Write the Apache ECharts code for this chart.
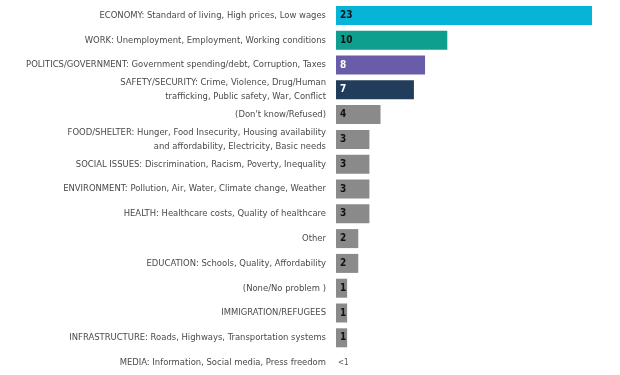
<!DOCTYPE html>
<html><head><meta charset="utf-8">
<script src="https://cdn.jsdelivr.net/npm/echarts@6/dist/echarts.min.js"></script>
<style>html,body{margin:0;padding:0;background:#fff}#c{width:620px;height:375px}</style>
</head><body><div id="c"></div>
<script>
var categories = [
  "ECONOMY: Standard of living, High prices, Low wages",
  "WORK: Unemployment, Employment, Working conditions",
  "POLITICS/GOVERNMENT: Government spending/debt, Corruption, Taxes",
  "SAFETY/SECURITY: Crime, Violence, Drug/Human\ntrafficking, Public safety, War, Conflict",
  "(Don't know/Refused)",
  "FOOD/SHELTER: Hunger, Food Insecurity, Housing availability\nand affordability, Electricity, Basic needs",
  "SOCIAL ISSUES: Discrimination, Racism, Poverty, Inequality",
  "ENVIRONMENT: Pollution, Air, Water, Climate change, Weather",
  "HEALTH: Healthcare costs, Quality of healthcare",
  "Other",
  "EDUCATION: Schools, Quality, Affordability",
  "(None/No problem )",
  "IMMIGRATION/REFUGEES",
  "INFRASTRUCTURE: Roads, Highways, Transportation systems",
  "MEDIA: Information, Social media, Press freedom"
];
var values = [23, 10, 8, 7, 4, 3, 3, 3, 3, 2, 2, 1, 1, 1, 0];
var valueLabels = ["23","10","8","7","4","3","3","3","3","2","2","1","1","1","<1"];
var barColors = ["#05b4d7","#0f9f8f","#6a5ca8","#213d5b","#8a8a8a","#8a8a8a","#8a8a8a","#8a8a8a","#8a8a8a","#8a8a8a","#8a8a8a","#8a8a8a","#8a8a8a","#8a8a8a","#8a8a8a"];
var labelColors = ["#111","#111","#fff","#fff","#111","#111","#111","#111","#111","#111","#111","#111","#111","#111","#555"];

var FONT = '"Liberation Sans Narrow","DejaVu Sans Condensed",sans-serif';
var chart = echarts.init(document.getElementById('c'), null, {renderer:'canvas'});
chart.setOption({
  animation: false,
  grid: {left: 336, width: 256, top: 3, height: 375, containLabel: false},
  xAxis: {type: 'value', min: 0, max: 23, show: false},
  yAxis: {
    type: 'category', inverse: true, data: categories,
    axisLine: {show: false}, axisTick: {show: false},
    axisLabel: {margin: 10, color: '#4a4a4a', fontFamily: FONT, fontSize: 9.4, lineHeight: 14, align: 'right'}
  },
  series: [{
    type: 'bar', barWidth: 19,
    data: values.map(function(v, i){
      var last = i === values.length - 1;
      return {
        value: v,
        itemStyle: {color: barColors[i]},
        label: {
          show: true, position: last ? 'right' : 'insideLeft',
          distance: last ? 2 : 4,
          formatter: valueLabels[i], color: labelColors[i],
          fontFamily: FONT, fontSize: last ? 8 : 10,
          fontWeight: last ? 'normal' : 'bold'
        }
      };
    })
  }]
});
</script></body></html>
